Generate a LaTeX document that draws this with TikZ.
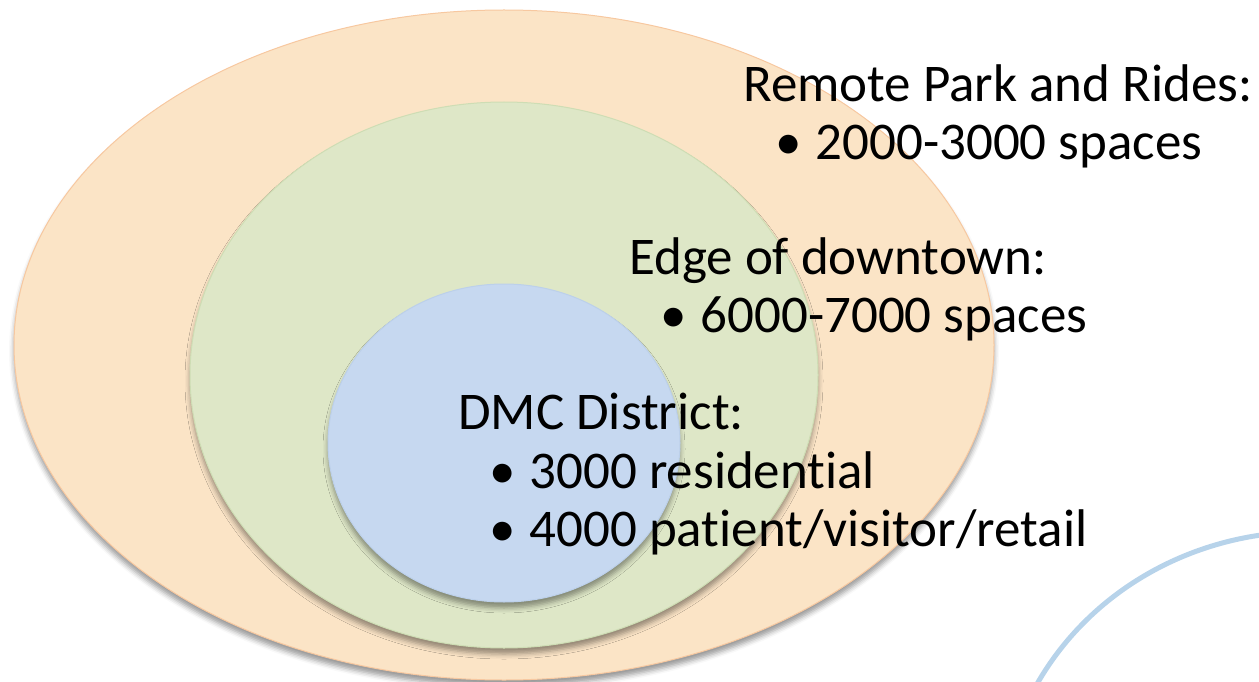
\documentclass[tikz,border=0pt]{standalone}
\usepackage{fontspec}
\setmainfont{Carlito}[Ligatures=NoCommon]
\usetikzlibrary{shapes.geometric,shadows.blur}

\definecolor{outerfill}{HTML}{FBE4C6}
\definecolor{outerline}{HTML}{F7C8A0}
\definecolor{midfill}{HTML}{DEE7C7}
\definecolor{midline}{HTML}{CEDDB4}
\definecolor{innerfill}{HTML}{C6D8F0}
\definecolor{innerline}{HTML}{BCD0EA}
\definecolor{swoosh}{HTML}{B7D3EA}

\tikzset{
  ring/.style={ellipse, inner sep=0pt, line width=1pt,
    blur shadow={shadow xshift=0pt, shadow yshift=-6pt, shadow blur radius=5pt, shadow opacity=40}},
  label/.style={anchor=base west, inner sep=0pt, font=\fontsize{53}{58}\selectfont},
}
\newcommand{\bulletitem}{\textbullet\hspace{14pt}}

\begin{document}
\begin{tikzpicture}[x=1pt, y=-1pt]
\useasboundingbox (0,0) rectangle (1259,682);

% decorative arc in the lower right corner
\coordinate (arcA) at (1037,684);
\coordinate (arcB) at (1261,535);
\draw[swoosh, line width=5pt] (arcA) .. controls (1085,600) and (1170,548) .. (arcB);

% nested zones
\node[ring, fill=outerfill, draw=outerline, minimum width=980pt, minimum height=670pt] (outer) at (504,345) {};
\node[ring, fill=midfill, draw=midline, minimum width=628pt, minimum height=546pt] (mid) at (504,375) {};
\node[ring, fill=innerfill, draw=innerline, minimum width=352pt, minimum height=318pt] (inner) at (504,443) {};

% zone descriptions
\node[label] (t1) at (743,102) {Remote Park and Rides:};
\node[label] (t1a) at (775,160) {\bulletitem 2000-3000 spaces};
\node[label] (t2) at (629,274) {Edge of downtown:};
\node[label] (t2a) at (660,332) {\bulletitem 6000-7000 spaces};
\node[label] (t3) at (458,429) {DMC District:};
\node[label] (t3a) at (489,488) {\bulletitem 3000 residential};
\node[label] (t3b) at (489,546) {\bulletitem 4000 patient/visitor/retail};
\end{tikzpicture}
\end{document}
